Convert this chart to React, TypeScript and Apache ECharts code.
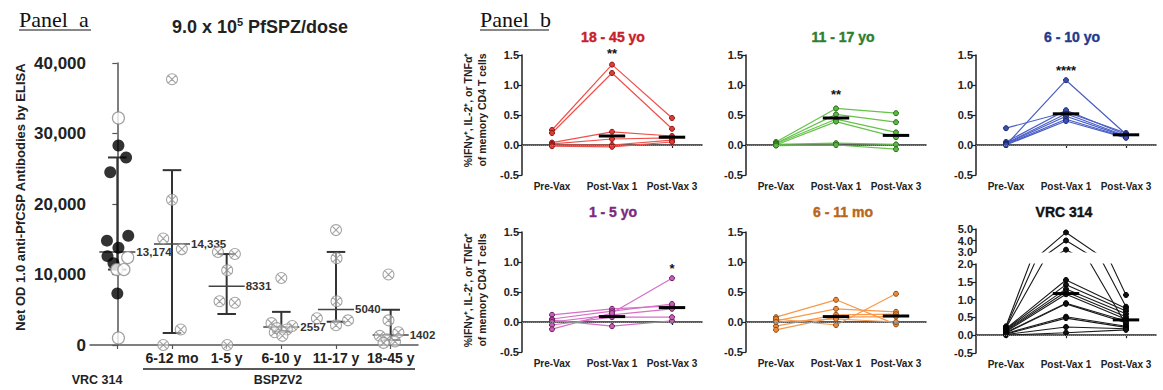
import React, { useEffect, useRef } from 'react';
import * as echarts from 'echarts';

const FONT = '"Liberation Sans", Arial, Helvetica, sans-serif';
const SERIF = '"Liberation Serif", "Times New Roman", serif';

// ---------------- Panel a data ----------------
const groupsA = ['VRC 314', '6-12 mo', '1-5 y', '6-10 y', '11-17 y', '18-45 y'];
const vrcFilled = [28300, 26600, 24500, 15500, 14800, 13800, 12600, 11600, 7300];
const vrcFilledJitter = [0.02, 0.16, -0.13, 0.2, -0.19, 0.02, -0.18, -0.07, 0.0];
const vrcOpen = [32200, 12400, 10700, 10700, 1000];
const vrcOpenJitter = [0.02, 0.19, -0.01, 0.12, 0.02];
const mo6to12 = [37700, 20600, 15100, 13600, 2200, 0];
const mo6to12Jitter = [0, 0, -0.16, 0.18, 0.16, -0.16];
const y1to5 = [13200, 12900, 10600, 6200, 6000, 0];
const y1to5Jitter = [-0.16, 0.15, 0.01, -0.13, 0.15, 0.01];
const y6to10 = [9500, 3100, 2700, 2400, 2200, 1800, 1300];
const y6to10Jitter = [0, -0.18, 0.2, -0.08, 0.1, -0.12, 0.02];
const y11to17 = [16300, 12300, 6200, 3800, 3500, 2800];
const y11to17Jitter = [0, 0.01, 0.01, -0.35, 0.22, 0];
const y18to45 = [10000, 3500, 1800, 1300, 800, 500, 300];
const y18to45Jitter = [-0.04, -0.04, 0.14, -0.2, -0.07, 0.08, -0.13];
const medianA = [13174, 14335, 8331, 2557, 5040, 1402];
const lowA = [10700, 1700, 4400, 1900, 3300, 700];
const highA = [26600, 24800, 12900, 4700, 13200, 5000];
const medianLabelA = ['13,174', '14,335', '8331', '2557', '5040', '1402'];
const yTicksA = [0, 10000, 20000, 30000, 40000];

// ---------------- Panel b data ----------------
const timepoints = ['Pre-Vax', 'Post-Vax 1', 'Post-Vax 3'];
// each row: [Pre-Vax, Post-Vax 1, Post-Vax 3]
const adults18to45 = [
  [0.25, 1.34, 0.45],
  [0.2, 1.2, 0.27],
  [0.04, 0.22, 0.15],
  [0.02, 0.1, 0.12],
  [0.0, 0.0, 0.08],
  [-0.02, -0.03, 0.05],
];
const adultsMedian = [0.15, 0.13];
const teens11to17 = [
  [0.05, 0.61, 0.53],
  [0.03, 0.51, 0.38],
  [0.02, 0.43, 0.21],
  [0.0, 0.39, 0.13],
  [0.01, 0.03, 0.01],
  [-0.01, 0.0, -0.07],
];
const teensMedian = [0.45, 0.16];
const kids6to10 = [
  [0.28, 0.55, 0.2],
  [0.0, 1.08, 0.18],
  [0.05, 0.58, 0.17],
  [0.03, 0.52, 0.15],
  [0.02, 0.48, 0.14],
  [0.01, 0.43, 0.13],
  [0.0, 0.4, 0.12],
];
const kidsMedian = [0.52, 0.17];
const young1to5 = [
  [0.12, 0.22, 0.27],
  [0.05, 0.18, 0.3],
  [0.03, -0.07, 0.02],
  [0.0, 0.12, 0.22],
  [-0.05, 0.08, 0.08],
  [-0.12, 0.15, 0.73],
];
const youngMedian = [0.09, 0.24];
const infants6to11 = [
  [0.08, 0.37, -0.04],
  [0.02, 0.22, 0.17],
  [-0.07, 0.12, 0.13],
  [-0.13, 0.08, 0.09],
  [0.05, -0.05, 0.47],
  [0.0, 0.05, 0.0],
];
const infantsMedian = [0.09, 0.1];
const vrcPre = [0.25, 0.22, 0.2, 0.18, 0.16, 0.14, 0.12, 0.1, 0.08, 0.06, 0.05, 0.03, 0.02, 0.0];
const vrcPost1 = [4.7, 4.0, 3.2, 1.55, 1.42, 1.3, 1.22, 1.15, 0.9, 0.88, 0.52, 0.48, 0.23, 0.07];
const vrcPost3 = [1.13, 0.8, 0.3, 0.75, 0.68, 0.6, 0.52, 0.45, 0.4, 0.35, 0.25, 0.22, 0.18, 0.15];
const vrcMedian = [1.17, 0.43];
const adultsStars = { timepoint: 1, y: 1.53, text: '**' };
const teensStars = { timepoint: 1, y: 0.85, text: '**' };
const kidsStars = { timepoint: 1, y: 1.25, text: '****' };
const youngStars = { timepoint: 2, y: 0.9, text: '*' };

const fmt1 = (v: number) => (Math.abs(v) < 1e-9 ? '0.0' : v.toFixed(1));

function buildOption() {
  const grids: any[] = [];
  const xAxes: any[] = [];
  const yAxes: any[] = [];
  const series: any[] = [];

  // ---------- Panel a ----------
  grids.push({ left: 90, top: 63, width: 328, height: 282 });
  xAxes.push({
    type: 'category', gridIndex: 0, data: groupsA,
    axisLine: { show: true, lineStyle: { color: '#555', width: 1.5 } },
    axisTick: { show: true, alignWithLabel: true, length: 4, lineStyle: { color: '#555', width: 1.2 } },
    axisLabel: {
      interval: 0, fontFamily: FONT, fontWeight: 'bold', fontSize: 14, color: '#222', margin: 6,
      formatter: (v: string, i: number) => (i === 0 ? '' : v),
    },
  });
  xAxes.push({ type: 'value', gridIndex: 0, min: -0.5, max: 5.5, show: false });
  yAxes.push({
    type: 'value', gridIndex: 0, min: 0, max: 40000, interval: 10000,
    axisLine: { show: true, lineStyle: { color: '#555', width: 1.5 } },
    axisTick: { show: true, length: 5, lineStyle: { color: '#555', width: 1.2 } },
    splitLine: { show: false },
    axisLabel: {
      fontFamily: FONT, fontWeight: 'bold', fontSize: 17, color: '#222', margin: 4,
      formatter: (v: number) => (yTicksA.includes(v) ? v.toLocaleString('en-US') : ''),
    },
  });

  const crossPath = 'path://M0,10 A10,10 0 1,1 20,10 A10,10 0 1,1 0,10 Z M3,3 L17,17 M17,3 L3,17';
  series.push({
    type: 'custom', xAxisIndex: 0, yAxisIndex: 0, z: 2, silent: true,
    data: medianA.map((m, i) => [i, m, lowA[i], highA[i]]),
    renderItem: (params: any, api: any) => {
      const i = api.value(0);
      const c = api.coord([i, api.value(1)]);
      const lo = api.coord([i, api.value(2)]);
      const hi = api.coord([i, api.value(3)]);
      const band = api.size([1, 0])[0];
      const mw = band * 0.33;
      const cw = band * 0.17;
      const st = { stroke: '#333', lineWidth: 2 };
      return {
        type: 'group',
        children: [
          { type: 'line', shape: { x1: c[0], y1: hi[1], x2: c[0], y2: lo[1] }, style: st },
          { type: 'line', shape: { x1: c[0] - cw, y1: hi[1], x2: c[0] + cw, y2: hi[1] }, style: st },
          { type: 'line', shape: { x1: c[0] - cw, y1: lo[1], x2: c[0] + cw, y2: lo[1] }, style: st },
          { type: 'line', shape: { x1: c[0] - mw, y1: c[1], x2: c[0] + mw, y2: c[1] }, style: { stroke: '#444', lineWidth: 1.5 } },
          {
            type: 'text', x: c[0] + mw + 1, y: c[1],
            style: { text: medianLabelA[params.dataIndex], fill: '#333', fontFamily: FONT, fontWeight: 'bold', fontSize: 11.5, verticalAlign: 'middle', align: 'left' },
          },
        ],
      };
    },
  });
  series.push({
    type: 'scatter', xAxisIndex: 1, yAxisIndex: 0, z: 3, silent: true,
    symbol: 'circle', symbolSize: 12, itemStyle: { color: '#000' },
    data: vrcFilled.map((v, i) => [0 + vrcFilledJitter[i], v]),
  });
  series.push({
    type: 'scatter', xAxisIndex: 1, yAxisIndex: 0, z: 3, silent: true,
    symbol: 'circle', symbolSize: 12, itemStyle: { color: '#fff', borderColor: '#8a8a8a', borderWidth: 1.2 },
    data: vrcOpen.map((v, i) => [0 + vrcOpenJitter[i], v]),
  });
  const bspz = [
    [mo6to12, mo6to12Jitter],
    [y1to5, y1to5Jitter],
    [y6to10, y6to10Jitter],
    [y11to17, y11to17Jitter],
    [y18to45, y18to45Jitter],
  ];
  bspz.forEach(([vals, jit], g) => {
    series.push({
      type: 'scatter', xAxisIndex: 1, yAxisIndex: 0, z: 3, silent: true, clip: false,
      symbol: crossPath, symbolSize: 11, symbolKeepAspect: true,
      itemStyle: { color: 'rgba(255,255,255,0.6)', borderColor: '#8c8c8c', borderWidth: 1.1 },
      data: (vals as number[]).map((v, i) => [g + 1 + (jit as number[])[i], v]),
    });
  });

  // ---------- Panel b ----------
  const catAxis = (gi: number, show = true) => ({
    type: 'category', gridIndex: gi, data: timepoints, show,
    axisLine: { show: true, lineStyle: { color: '#222', width: 1.5 } },
    axisTick: { show: true, alignWithLabel: true, length: 3, lineStyle: { color: '#222', width: 1.2 } },
    axisLabel: { interval: 0, fontFamily: FONT, fontWeight: 'bold', fontSize: 10, color: '#222', margin: 6 },
  });
  const valAxis = (gi: number, min: number, max: number, interval: number) => ({
    type: 'value', gridIndex: gi, min, max, interval,
    axisLine: { show: true, lineStyle: { color: '#222', width: 1.5 } },
    axisTick: { show: true, length: 4, lineStyle: { color: '#222', width: 1.2 } },
    splitLine: { show: false },
    axisLabel: { formatter: fmt1, fontFamily: FONT, fontWeight: 'bold', fontSize: 11, color: '#222', margin: 3 },
  });
  const zeroLine = {
    silent: true, symbol: ['none', 'none'], label: { show: false },
    lineStyle: { type: 'dotted', color: '#888', width: 1 }, data: [{ yAxis: 0 }],
  };
  const medianSeries = (xi: number, yi: number, med: number[]) => ({
    type: 'custom', xAxisIndex: xi, yAxisIndex: yi, z: 6, silent: true,
    data: med.map((m, i) => [i + 1, m]),
    renderItem: (_p: any, api: any) => {
      const p = api.coord([api.value(0), api.value(1)]);
      const w = api.size([1, 0])[0] * 0.22;
      return { type: 'line', shape: { x1: p[0] - w, y1: p[1], x2: p[0] + w, y2: p[1] }, style: { stroke: '#000', lineWidth: 3 } };
    },
  });
  const starSeries = (xi: number, yi: number, s: { timepoint: number; y: number; text: string }) => ({
    type: 'custom', xAxisIndex: xi, yAxisIndex: yi, z: 6, silent: true,
    data: [[s.timepoint, s.y]],
    renderItem: (_p: any, api: any) => {
      const p = api.coord([api.value(0), api.value(1)]);
      return {
        type: 'text', x: p[0], y: p[1],
        style: { text: s.text, fill: '#111', fontFamily: FONT, fontWeight: 'bold', fontSize: 13, align: 'center', verticalAlign: 'middle' },
      };
    },
  });

  const subplots = [
    { rows: adults18to45, med: adultsMedian, stars: adultsStars, left: 522, top: 55, line: '#f0504a', fill: '#e03c36', border: '#8a1414' },
    { rows: teens11to17, med: teensMedian, stars: teensStars, left: 746, top: 55, line: '#66c24a', fill: '#5cb845', border: '#2a6a1a' },
    { rows: kids6to10, med: kidsMedian, stars: kidsStars, left: 976, top: 55, line: '#4a5ec4', fill: '#3c50b0', border: '#1c2a70' },
    { rows: young1to5, med: youngMedian, stars: youngStars, left: 522, top: 232, line: '#d670c6', fill: '#c860b8', border: '#6a1a60' },
    { rows: infants6to11, med: infantsMedian, stars: null, left: 746, top: 232, line: '#f7984a', fill: '#f08a3a', border: '#8a4a10' },
  ];
  subplots.forEach((sp) => {
    const gi = grids.length;
    grids.push({ left: sp.left, top: sp.top, width: 180, height: 120 });
    const xi = xAxes.length;
    xAxes.push(catAxis(gi));
    const yi = yAxes.length;
    yAxes.push(valAxis(gi, -0.5, 1.5, 0.5));
    sp.rows.forEach((row, r) => {
      series.push({
        type: 'line', xAxisIndex: xi, yAxisIndex: yi, data: row, z: 3, silent: true,
        symbol: 'circle', symbolSize: 5, showSymbol: true,
        lineStyle: { color: sp.line, width: 1.2 },
        itemStyle: { color: sp.fill, borderColor: sp.border, borderWidth: 1 },
        markLine: r === 0 ? zeroLine : undefined,
      });
    });
    series.push(medianSeries(xi, yi, sp.med));
    if (sp.stars) series.push(starSeries(xi, yi, sp.stars));
  });

  // VRC 314 (broken axis: lower and upper segments)
  const giLow = grids.length;
  grids.push({ left: 976, top: 264, width: 180, height: 89 });
  const giUp = grids.length;
  grids.push({ left: 976, top: 229, width: 180, height: 23 });
  const xiLow = xAxes.length;
  xAxes.push(catAxis(giLow));
  const xiUp = xAxes.length;
  xAxes.push(catAxis(giUp, false));
  const yiLow = yAxes.length;
  yAxes.push(valAxis(giLow, -0.5, 2, 0.5));
  const yiUp = yAxes.length;
  yAxes.push(valAxis(giUp, 3, 5, 1));
  [[xiLow, yiLow], [xiUp, yiUp]].forEach(([xi, yi], seg) => {
    vrcPre.forEach((p, i) => {
      series.push({
        type: 'line', xAxisIndex: xi, yAxisIndex: yi, data: [p, vrcPost1[i], vrcPost3[i]], z: 3, silent: true, clip: true,
        symbol: 'circle', symbolSize: 5, showSymbol: true,
        lineStyle: { color: '#1a1a1a', width: 1.1 },
        itemStyle: { color: '#111', borderColor: '#000', borderWidth: 1 },
        markLine: seg === 0 && i === 0 ? zeroLine : undefined,
      });
    });
  });
  series.push(medianSeries(xiLow, yiLow, vrcMedian));

  // ---------- graphics (texts) ----------
  const bTitle = (text: string, x: number, y: number, fill: string) => ({
    type: 'text', x, y, silent: true,
    style: { text, fill, fontFamily: FONT, fontWeight: 'bold', fontSize: 14, align: 'center', verticalAlign: 'middle', stroke: fill, lineWidth: 0.4 },
  });
  const yNameB = (y: number) => ({
    type: 'text', x: 475, y, rotation: Math.PI / 2, silent: true,
    style: {
      text: '%IFN\u03b3\u207a, IL-2\u207a, or TNF\u03b1\u207a\nof memory CD4 T cells',
      fill: '#222', fontFamily: FONT, fontWeight: 'bold', fontSize: 10.5, lineHeight: 14, align: 'center', verticalAlign: 'middle',
    },
  });
  const graphic: any[] = [
    { type: 'text', x: 19, y: 19, silent: true, style: { text: 'Panel\u00a0\u00a0a', fill: '#111', fontFamily: SERIF, fontSize: 22, verticalAlign: 'middle' } },
    { type: 'line', silent: true, shape: { x1: 19, y1: 30, x2: 91, y2: 30 }, style: { stroke: '#111', lineWidth: 1.2 } },
    { type: 'text', x: 480, y: 19, silent: true, style: { text: 'Panel\u00a0\u00a0b', fill: '#111', fontFamily: SERIF, fontSize: 22, verticalAlign: 'middle' } },
    { type: 'line', silent: true, shape: { x1: 480, y1: 30, x2: 549, y2: 30 }, style: { stroke: '#111', lineWidth: 1.2 } },
    {
      type: 'text', x: 260, y: 27, silent: true,
      style: {
        text: '{m|9.0 x 10}{s|5}{m| PfSPZ/dose}', align: 'center', verticalAlign: 'middle',
        rich: {
          m: { fontFamily: FONT, fontWeight: 'bold', fontSize: 18, fill: '#222', lineHeight: 22 },
          s: { fontFamily: FONT, fontWeight: 'bold', fontSize: 11, fill: '#222', lineHeight: 22, verticalAlign: 'top' },
        },
      },
    },
    {
      type: 'text', x: 20, y: 197, rotation: Math.PI / 2, silent: true,
      style: { text: 'Net OD 1.0 anti-PfCSP Antibodies by ELISA', fill: '#222', fontFamily: FONT, fontWeight: 'bold', fontSize: 13, align: 'center', verticalAlign: 'middle' },
    },
    { type: 'text', x: 97, y: 380, silent: true, style: { text: 'VRC 314', fill: '#222', fontFamily: FONT, fontWeight: 'bold', fontSize: 12.5, align: 'center', verticalAlign: 'middle' } },
    { type: 'text', x: 278, y: 380, silent: true, style: { text: 'BSPZV2', fill: '#222', fontFamily: FONT, fontWeight: 'bold', fontSize: 12.5, align: 'center', verticalAlign: 'middle' } },
    { type: 'line', silent: true, shape: { x1: 143, y1: 369, x2: 415, y2: 369 }, style: { stroke: '#222', lineWidth: 1.5 } },
    bTitle('18 - 45 yo', 613, 37, '#c8202a'),
    bTitle('11 - 17 yo', 843, 37, '#2e7d2e'),
    bTitle('6 - 10 yo', 1072, 37, '#263a8c'),
    bTitle('1 - 5 yo', 613, 212, '#7b2a7e'),
    bTitle('6 - 11 mo', 843, 212, '#b8661c'),
    bTitle('VRC 314', 1064, 212, '#111'),
    yNameB(110),
    yNameB(290),
  ];

  return {
    animation: false,
    backgroundColor: '#fff',
    grid: grids,
    xAxis: xAxes,
    yAxis: yAxes,
    series,
    graphic,
  };
}

export default function App() {
  const ref = useRef<HTMLDivElement>(null);
  useEffect(() => {
    if (!ref.current) return;
    const chart = echarts.init(ref.current, undefined, { renderer: 'svg' });
    chart.setOption(buildOption() as any);
    return () => chart.dispose();
  }, []);
  return <div ref={ref} style={{ position: 'absolute', left: 0, top: 0, width: 1163, height: 390 }} />;
}
